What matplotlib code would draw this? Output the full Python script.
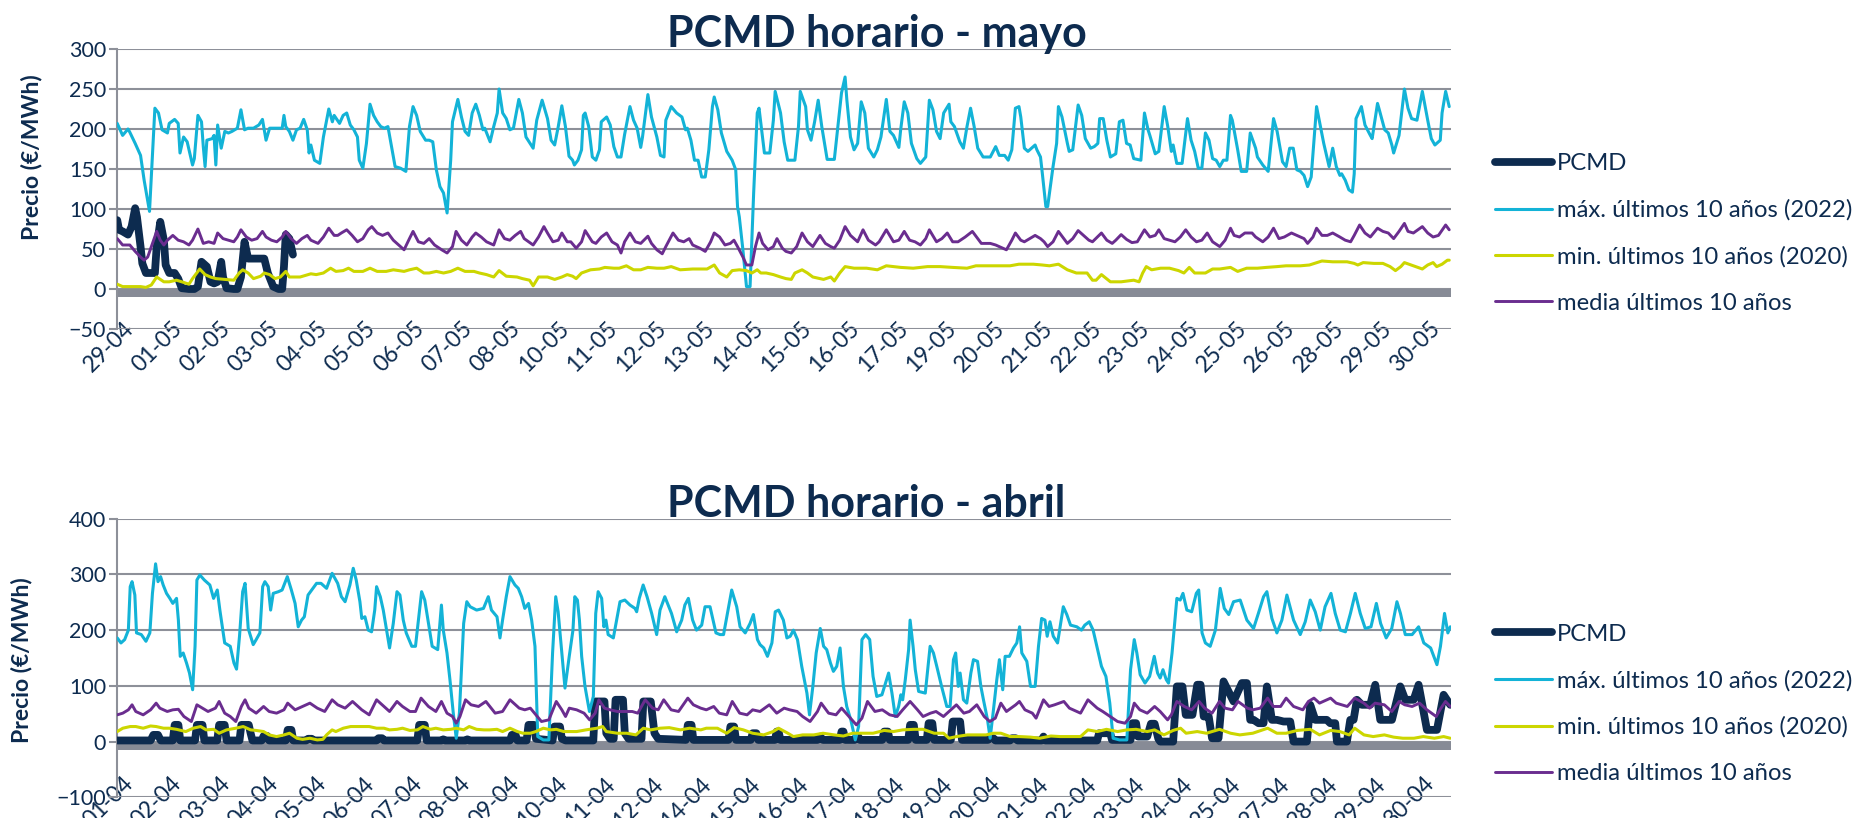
import matplotlib
matplotlib.use("Agg")
import matplotlib.pyplot as plt
from matplotlib.transforms import ScaledTranslation

# ---------------- data (hour index, €/MWh) ----------------
MAY_TICKS = ["29-04", "01-05", "02-05", "03-05", "04-05", "05-05", "06-05", "07-05",
             "08-05", "10-05", "11-05", "12-05", "13-05", "14-05", "15-05", "16-05",
             "17-05", "19-05", "20-05", "21-05", "22-05", "23-05", "24-05", "25-05",
             "26-05", "28-05", "29-05", "30-05"]
APR_TICKS = ["01-04", "02-04", "03-04", "04-04", "05-04", "06-04", "07-04", "08-04",
             "09-04", "10-04", "11-04", "12-04", "14-04", "15-04", "16-04", "17-04",
             "18-04", "19-04", "20-04", "21-04", "22-04", "23-04", "24-04", "25-04",
             "27-04", "28-04", "29-04", "30-04"]
MAY_HOURS = 744
APR_HOURS = 720
MAY_TICK_EVERY = 27
APR_TICK_EVERY = 26

LABELS = ["PCMD", "máx. últimos 10 años (2022)", "min. últimos 10 años (2020)",
          "media últimos 10 años"]

MAY_PCMD = [(0,86),(1,74),(3,72),(6,68),(8,78),(10,101),(11,90),(13,53),(14,32),(16,20),(18,20),
    (21,20),(22,53),(24,84),(26,61),(27,30),(29,20),(32,20),(34,13),(36,1),(40,0),(43,0),(45,3),
    (47,34),(50,28),(52,9),(54,7),(56,9),(58,34),(59,15),(61,1),(65,0),(67,0),(69,15),(71,59),
    (73,38),(78,38),(82,38),(84,20),(87,3),(90,0),(92,0),(93,28),(94,68),(96,63),(98,43)]

MAY_MAX = [(0,207),(3,192),(6,200),(7,196),(10,182),(13,167),(15,136),(18,97),(20,182),(21,226),
    (23,220),(25,199),(28,195),(29,207),(32,212),(34,207),(35,170),(37,190),(39,184),(42,155),
    (43,163),(45,217),(47,209),(48,178),(49,153),(50,186),(53,188),(54,192),(55,155),(56,205),
    (58,176),(60,197),(62,195),(64,197),(67,201),(69,224),(71,199),(73,201),(76,201),(79,205),
    (81,212),(83,186),(85,201),(89,201),(92,201),(93,217),(94,203),(96,197),(98,186),(100,199),
    (102,201),(104,212),(106,199),(107,170),(108,180),(110,161),(113,157),(115,190),(118,225),
    (120,209),(121,217),(124,207),(126,217),(128,220),(130,205),(132,199),(134,190),(135,161),
    (137,151),(139,182),(141,231),(143,217),(145,209),(147,203),(149,201),(151,203),(153,178),
    (155,153),(158,151),(161,147),(163,203),(165,228),(167,217),(169,197),(172,186),(174,186),
    (176,184),(178,149),(180,128),(182,120),(184,95),(186,161),(187,209),(190,237),(192,215),
    (194,197),(196,192),(198,220),(200,231),(202,217),(204,199),(205,201),(208,184),(210,203),
    (212,220),(213,250),(215,220),(217,213),(219,199),(221,201),(224,237),(226,220),(228,190),
    (232,176),(234,211),(237,236),(240,213),(242,186),(244,180),(246,203),(248,229),(250,203),
    (252,166),(254,161),(255,155),(257,161),(259,174),(260,217),(261,220),(263,203),(265,165),
    (267,161),(269,174),(270,209),(273,215),(275,205),(277,178),(279,165),(281,165),(283,193),
    (286,228),(288,211),(290,201),(292,177),(293,190),(296,243),(298,215),(301,190),(303,167),
    (305,165),(306,211),(309,228),(312,220),(315,215),(317,199),(318,201),(320,186),(322,161),
    (324,161),(326,140),(328,140),(330,174),(332,228),(333,240),(335,224),(337,195),(340,172),
    (343,161),(345,149),(346,103),(347,90),(349,49),(351,3),(353,3),(355,120),(357,220),
    (358,226),(359,207),(361,170),(364,170),(366,211),(367,247),(370,220),(372,184),(374,161),
    (378,161),(380,203),(381,247),(384,228),(385,199),(387,186),(389,209),(391,236),(393,203),
    (396,162),(400,162),(402,203),(404,245),(406,265),(407,236),(409,190),(411,174),(413,182),
    (415,234),(417,220),(419,176),(422,165),(424,174),(426,190),(429,237),(431,197),(433,192),
    (436,177),(437,199),(439,234),(441,220),(443,182),(446,163),(448,157),(451,165),(453,236),
    (455,224),(457,197),(459,188),(461,220),(464,231),(465,209),(467,203),(470,184),(472,176),
    (474,203),(476,226),(478,203),(480,176),(483,165),(487,165),(490,178),(492,167),(495,167),
    (497,161),(499,174),(501,226),(503,228),(504,215),(506,176),(508,172),(510,176),(512,180),
    (513,174),(515,165),(516,145),(518,103),(519,103),(521,136),(522,153),(524,182),(525,228),
    (527,215),(530,182),(531,172),(533,174),(536,230),(538,217),(540,188),(543,176),(545,178),
    (547,182),(548,213),(550,213),(552,186),(554,165),(557,169),(559,209),(561,211),(563,182),
    (565,180),(567,163),(571,161),(573,220),(575,199),(576,192),(579,169),(581,172),(584,228),
    (586,203),(588,172),(589,180),(591,157),(594,157),(597,213),(599,186),(601,172),(603,151),
    (605,151),(607,195),(609,186),(611,163),(613,161),(615,153),(617,161),(619,161),(621,217),
    (622,211),(625,174),(627,147),(630,147),(632,195),(635,176),(636,165),(639,155),(642,147),
    (645,213),(647,197),(650,159),(652,153),(654,176),(656,176),(658,149),(660,147),(662,142),
    (664,128),(666,140),(669,228),(671,205),(673,182),(676,153),(678,176),(680,153),(682,142),
    (683,144),(685,136),(687,124),(689,121),(690,144),(691,213),(694,228),(696,205),(699,192),
    (700,188),(703,232),(704,224),(707,199),(709,195),(711,180),(712,170),(715,192),(718,250),
    (720,226),(722,213),(725,211),(728,247),(731,211),(733,188),(735,180),(738,186),(739,220),
    (741,247),(743,228)]

MAY_MIN = [(0,6),(3,3),(7,3),(13,3),(16,2),(19,5),(22,15),(26,9),(29,9),(33,11),(36,9),(40,6),
    (42,13),(46,25),(49,18),(52,15),(55,13),(60,12),(65,11),(68,20),(70,24),(73,20),(76,13),
    (80,16),(82,20),(85,18),(88,13),(91,15),(94,22),(96,15),(102,15),(108,19),(111,18),(115,20),
    (119,26),(122,22),(126,23),(129,26),(132,22),(137,22),(141,26),(145,22),(150,22),(154,24),
    (160,22),(163,24),(167,26),(171,20),(174,20),(178,22),(182,20),(186,22),(190,26),(194,22),
    (199,22),(202,20),(206,18),(210,15),(213,23),(217,16),(223,15),(226,13),(230,11),(232,4),
    (235,15),(240,15),(244,12),(248,15),(251,18),(254,16),(256,13),(259,20),(264,24),(269,25),
    (272,27),(277,26),(280,26),(284,29),(288,24),(292,24),(296,27),(301,26),(305,26),(309,28),
    (314,24),(321,25),(329,25),(333,30),(336,20),(340,15),(343,23),(347,24),(351,23),(354,20),
    (357,24),(359,20),(362,20),(366,18),(370,15),(373,13),(376,12),(378,20),(382,24),(385,20),
    (388,15),(394,12),(398,15),(400,10),(403,20),(406,28),(411,26),(418,26),(424,24),(429,29),
    (437,27),(444,26),(452,28),(459,28),(466,27),(474,26),(479,29),(485,29),(492,29),(498,29),
    (503,31),(511,31),(516,30),(520,29),(525,31),(530,24),(535,20),(541,20),(544,11),(546,11),
    (549,18),(554,9),(560,9),(567,11),(570,9),(572,20),(574,28),(577,24),(582,26),(587,26),
    (592,23),(595,20),(598,27),(601,20),(607,20),(611,25),(615,25),(621,27),(625,22),(630,26),
    (636,26),(641,27),(647,28),(652,29),(660,29),(665,30),(672,35),(678,34),(686,34),(690,32),
    (692,30),(695,33),(701,32),(706,32),(710,28),(713,23),(716,28),(718,33),(723,29),(728,25),
    (731,30),(734,33),(736,28),(739,31),(742,36),(743,36)]

MAY_MEDIA = [(0,63),(3,55),(7,55),(10,47),(13,40),(15,36),(17,40),(20,59),(22,72),(24,61),
    (26,55),(28,61),(31,67),(34,61),(37,59),(40,55),(42,61),(45,75),(48,57),(51,59),(54,57),
    (56,70),(59,63),(62,61),(65,59),(67,65),(69,74),(72,65),(75,61),(78,63),(81,72),(83,65),
    (86,61),(89,59),(92,65),(94,72),(97,63),(100,57),(103,63),(106,67),(108,61),(112,57),
    (115,65),(118,76),(121,67),(123,67),(125,70),(128,74),(131,67),(134,59),(137,63),(140,74),
    (142,78),(145,70),(148,67),(151,70),(154,61),(158,53),(160,49),(163,63),(165,72),(168,59),
    (171,57),(174,63),(177,55),(181,49),(184,45),(187,53),(189,72),(192,61),(195,55),(198,65),
    (200,70),(203,65),(206,59),(210,55),(213,74),(216,63),(219,61),(222,67),(225,72),(227,63),
    (232,55),(235,65),(238,78),(240,70),(243,59),(246,61),(248,70),(251,59),(253,59),(256,51),
    (259,59),(261,73),(265,59),(267,57),(270,65),(273,70),(276,59),(279,55),(281,45),(283,59),
    (286,70),(289,59),(292,57),(296,66),(298,57),(301,49),(304,44),(306,53),(310,70),(313,61),
    (316,59),(319,63),(321,55),(325,51),(328,47),(331,59),(333,70),(336,65),(339,55),(342,57),
    (344,61),(346,53),(349,40),(351,30),(354,30),(356,53),(358,70),(360,57),(363,49),(366,53),
    (368,63),(371,51),(373,47),(376,45),(379,53),(382,70),(385,59),(388,53),(392,67),(395,57),
    (398,53),(400,51),(403,61),(406,78),(409,67),(413,59),(416,74),(419,61),(423,55),(425,59),
    (429,74),(433,59),(436,61),(439,72),(442,61),(445,59),(448,55),(451,63),(453,74),(457,59),
    (460,63),(463,70),(466,59),(469,59),(473,65),(477,72),(482,57),(487,57),(490,55),(492,53),
    (496,49),(499,61),(501,70),(504,61),(506,59),(509,63),(512,67),(515,63),(517,59),(519,53),
    (522,59),(525,72),(528,63),(530,57),(533,63),(536,73),(539,67),(542,61),(544,59),(549,70),
    (552,61),(555,57),(557,61),(560,68),(563,62),(566,58),(569,59),(573,74),(576,65),(579,67),
    (581,74),(584,63),(587,61),(590,59),(593,65),(596,74),(599,65),(602,59),(605,61),(608,70),
    (611,59),(615,53),(618,61),(621,76),(623,67),(626,65),(629,70),(633,70),(635,65),(639,59),
    (642,65),(645,76),(648,63),(651,65),(655,70),(658,67),(662,63),(664,57),(667,65),(669,76),
    (672,67),(675,67),(678,70),(682,65),(685,61),(688,59),(690,67),(693,80),(696,70),(699,65),
    (703,76),(706,72),(709,70),(712,63),(715,72),(718,82),(720,72),(723,70),(728,78),(731,70),
    (734,65),(737,67),(741,80),(743,74)]

APR_PCMD = [(0,2),(18,2),(19.5,12),(22,12),(23.5,2),(30,2),(31,30),(33,30),(34,2),(42,2),(43,30),
    (46,30),(47,2),(54,2),(55,30),(58,30),(59,2),(66,2),(67,30),(71,30),(72,15),(73,2),(78,2),
    (79,10),(81,10),(82,2),(91,2),(92,21),(94,21),(95,2),(102,2),(103,5),(105,5),(106,2),(140,2),
    (141,6),(143,6),(144,2),(162,2),(163,30),(166,30),(167,2),(175,2),(176,4),(177,2),(188,2),
    (189,4),(190,2),(212,2),(213,12),(215,12),(216,2),(221,2),(222,30),(225,30),(226,5),(235,2),
    (236,27),(239,27),(240,5),(242,2),(257,2),(258,72),(263,72),(264,15),(266,5),(268,5),
    (269,75),(273,75),(274,15),(276,5),(283,5),(284,72),(288,72),(290,15),(292,5),(307,3),
    (308,30),(310,30),(311,3),(330,3),(331,27),(333,27),(334,3),(342,3),(343,15),(345,15),
    (346,3),(355,3),(356,18),(357,18),(358,3),(378,3),(379.5,9),(381,3),(390,3),(391,18),
    (392,18),(393,3),(398,3),(399,9),(400,9),(401,3),(413,3),(414,18),(416,18),(417,3),(427,3),
    (428,30),(430,30),(431,3),(437,3),(438,33),(440,33),(441,3),(450,3),(451,36),(455,36),
    (456,3),(470,3),(471,6),(473,6),(474,2),(482,2),(483,6),(485,6),(486,2),(499,2),(500,9),
    (501,2),(529,2),(530,15),(536,15),(537,3),(547,3),(548,33),(550,33),(551,9),(556,9),
    (558,32),(560,32),(562,5),(563,0),(570,0),(572,99),(575,99),(576.8,48),(580.4,48),(583,102),
    (584.8,102),(586.5,45),(589.2,45),(591,6),(594.5,6),(597.2,108),(602.6,72),(607.1,105),
    (609.8,105),(611.6,39),(613.4,39),(616.1,33),(618.8,33),(620.6,99),(623.3,39),(626,39),
    (629.6,36),(633.2,36),(635,0),(642.2,0),(644,66),(646.7,39),(652.9,39),(654.8,33),
    (657.5,33),(658.4,0),(663.8,0),(665.6,39),(667.4,39),(669.2,75),(671.9,66),(676.4,66),
    (679.1,102),(681.8,39),(688.1,39),(692.6,99),(695.3,75),(699.8,75),(702.5,102),(707,21),
    (712.4,21),(716,84),(719.6,66)]

APR_MAX = [(0,186),(2,177),(4,183),(6,200),(7,278),(8,287),(9.5,263),(10.4,195),(13,192),
    (15.5,180),(17.6,195),(19,266),(20.7,319),(22,287),(23.4,296),(24.8,281),(26.6,266),
    (28.4,257),(30,248),(32,257),(33,218),(34,153),(35.6,159),(37.4,141),(39,123),(40.7,93),
    (42,171),(43,290),(44.6,299),(47,290),(50,281),(52,257),(54,272),(55.4,236),(58,177),
    (61,171),(63,141),(64.4,130),(66,189),(67.7,269),(69,284),(70.7,203),(73.4,174),(75,183),
    (77,195),(78.5,278),(79.7,287),(81.5,278),(82.8,236),(84.2,266),(87,269),(89,272),
    (91.8,296),(94,272),(96,248),(97.7,206),(99.5,218),(101,224),(103,263),(105,272),
    (107.6,284),(110,284),(113,275),(116,302),(119,284),(121,260),(123,251),(125.6,281),
    (127.4,311),(129,290),(131,251),(132,221),(133.7,224),(135.5,200),(137.3,197),(139,236),
    (140,278),(142,260),(143.6,236),(145.4,200),(147,168),(149,212),(151,269),(152.6,263),
    (154.4,218),(156,195),(159,171),(161,171),(162.6,218),(164.3,269),(166,254),(168,212),
    (170,171),(173,165),(175,245),(176,200),(178,159),(179.6,111),(181.4,51),(183,6),
    (184.7,51),(187,212),(188.7,251),(190.5,242),(194,236),(197.7,239),(200.3,260),(202,236),
    (205,224),(206.6,186),(208,218),(210,260),(212,296),(214.7,281),(216.5,275),(218.3,260),
    (220,239),(222,248),(223.7,218),(225.5,171),(227,9),(230,3),(233,3),(235,159),(236.7,260),
    (238,233),(240,159),(241.7,96),(244,153),(246,200),(247,260),(248.4,254),(249.5,218),
    (250.7,153),(252.5,99),(254.9,54),(257,81),(258.3,230),(259.6,269),(261.5,257),(262.7,206),
    (263.8,218),(265,192),(267.8,186),(269.6,218),(271.4,251),(274,254),(276.8,245),
    (279.5,239),(280.4,233),(281.8,257),(283.9,281),(286,260),(288.5,230),(291.2,192),(293,236),
    (295.6,260),(297.4,245),(299.2,230),(302,197),(304.7,218),(306.4,245),(308.3,257),
    (310.6,218),(312.7,200),(315.5,209),(317.3,242),(320,242),(323.2,195),(325.4,192),
    (327.3,192),(329.4,230),(331.7,272),(334.4,242),(336.2,206),(339,195),(341.6,212),
    (343.4,228),(345.6,183),(347,174),(349,168),(351,153),(353.4,177),(355.2,233),(357,236),
    (359.6,218),(361.5,186),(363.3,189),(365,200),(367.2,183),(369.5,135),(372.3,87),
    (373.7,48),(375.5,99),(377.3,159),(379.5,203),(381.3,171),(383,165),(385,141),(386.6,126),
    (388.4,135),(390.2,168),(392,99),(393.8,63),(396,39),(398.4,3),(400.2,27),(402,183),
    (404,192),(406.2,183),(408,117),(410,81),(412.8,84),(416.4,123),(418.2,87),(420,45),
    (421.8,63),(423,84),(424,75),(425.4,111),(427.2,165),(428,218),(429.6,171),(430.8,129),
    (432.6,90),(436.2,87),(438.8,171),(440.6,159),(442.4,135),(445,99),(447.8,63),(449.6,63),
    (451.4,147),(452.6,159),(454,99),(455,123),(456.8,75),(458.6,69),(460.8,123),(462.2,147),
    (464.4,144),(466.2,99),(467.6,75),(469.8,39),(471.2,6),(473,57),(474.8,111),(476.2,147),
    (478,93),(479.3,153),(481.6,153),(483.8,168),(485.6,177),(487.1,206),(488.3,159),(491,144),
    (493,99),(495.5,99),(497.3,171),(499,221),(500.8,218),(502,189),(503.5,215),(505.3,189),
    (507.6,177),(509.3,212),(510.7,242),(512.6,228),(514.6,209),(518,206),(520.5,200),
    (522.3,209),(524.7,215),(526.8,200),(528.6,174),(531.3,135),(533.7,117),(535.8,69),
    (537.6,6),(541,3),(545,3),(547,129),(549,183),(550.4,159),(552.2,120),(554.8,105),
    (557.3,117),(559.8,153),(561.6,123),(563,114),(564.5,129),(566.3,111),(567.5,105),
    (569.4,159),(572,257),(573.8,254),(575.3,266),(577.4,236),(580,233),(582.5,266),(583.8,272),
    (585.6,195),(587.4,177),(590,171),(592.8,200),(595.4,275),(597.6,239),(600,228),(602.6,251),
    (606.2,254),(609.8,218),(613.4,203),(616,230),(618.8,260),(620.6,269),(623.3,221),(626,195),
    (628.7,218),(631.4,263),(635,218),(638.6,192),(641.3,215),(644,254),(646.7,233),(649.4,200),
    (652,242),(655.2,266),(657.5,230),(660.2,200),(663,197),(665.7,230),(668.3,266),(671,230),
    (673.7,203),(676.8,206),(679.7,248),(682,212),(685,186),(688,203),(690.8,251),(692.7,230),
    (695.3,192),(699,192),(702.5,206),(705.3,177),(709,168),(710.7,153),(712.4,138),(714.3,171),
    (716.5,230),(718.3,195),(719.6,206)]

APR_MIN = [(0,18),(3,24),(7,27),(10,27),(14,24),(18,28),(21,27),(25,24),(28,24),(32,22),(37,18),
    (41,24),(45,27),(48,21),(52,22),(55,15),(59,21),(64,24),(68,27),(72,21),(75,20),(79,18),
    (82,12),(86,9),(90,12),(93,15),(97,6),(100,4),(104,6),(108,3),(111,4),(113,12),(116,21),
    (118,18),(122,24),(126,27),(133,27),(136,27),(140,24),(144,24),(147,21),(151,22),(154,24),
    (158,20),(162,21),(165,27),(169,22),(172,24),(176,21),(180,22),(183,24),(187,21),(190,27),
    (194,22),(198,21),(201,21),(205,22),(208,18),(212,24),(216,18),(219,15),(223,15),(226,18),
    (230,24),(234,21),(237,22),(241,18),(244,18),(248,18),(253,21),(259,24),(262,27),(264,18),
    (270,15),(275,15),(280,12),(284,24),(288,21),(293,24),(298,25),(304,21),(309,24),(315,21),
    (318,24),(324,24),(329,15),(333,25),(338,21),(343,15),(349,12),(354,18),(357,24),(362,15),
    (365,9),(370,12),(376,12),(381,15),(387,12),(392,10),(397,15),(403,15),(408,15),(414,20),
    (419,18),(424,21),(430,22),(435,22),(441,15),(446,15),(449,6),(453,9),(459,12),(464,12),
    (469,12),(473,15),(477,15),(482,9),(487,9),(493,8),(498,6),(504,10),(509,9),(514,9),(520,9),
    (524,21),(529,18),(534,22),(540,18),(545,21),(550,22),(556,18),(560,21),(565,12),(570,20),
    (574,24),(577,15),(583,18),(588,15),(595,22),(601,15),(606,12),(613,15),(621,24),(626,15),
    (631,15),(637,20),(644,22),(649,12),(655,20),(660,18),(665,12),(668,24),(673,12),(678,9),
    (684,12),(689,8),(694,6),(700,6),(705,9),(711,6),(716,9),(719.6,6)]

APR_MEDIA = [(0,48),(3,51),(6,57),(8,66),(10,54),(14,48),(18,57),(21,69),(23,60),(27,54),(30,57),
    (33,58),(36,45),(40,36),(43,66),(46,60),(49,54),(53,60),(55,72),(58,51),(61,45),(64,36),
    (67,63),(69,75),(71,60),(75,51),(79,63),(82,54),(86,51),(90,57),(92,69),(96,57),(100,63),
    (104,69),(108,60),(112,54),(116,75),(119,66),(123,60),(127,72),(132,57),(136,48),(140,75),
    (145,60),(147,54),(151,72),(154,63),(158,54),(161,54),(164,78),(168,63),(172,54),(175,72),
    (178,51),(181,45),(183,33),(185,45),(188,75),(191,66),(195,63),(199,72),(204,51),(208,54),
    (212,75),(217,60),(220,57),(223,60),(226,48),(229,36),(233,39),(237,72),(240,57),(242,45),
    (244,60),(248,57),(252,51),(255,39),(258,51),(260,75),(263,60),(266,57),(270,54),(274,54),
    (278,54),(281,51),(285,75),(289,60),(292,57),(295,75),(299,57),(303,54),(308,78),(311,66),
    (315,60),(318,57),(322,63),(325,51),(329,48),(332,72),(336,51),(340,48),(343,57),(347,54),
    (352,66),(356,51),(360,60),(363,57),(367,54),(370,45),(374,36),(378,54),(380,69),(384,51),
    (388,48),(391,60),(395,45),(399,30),(402,42),(405,72),(409,54),(413,57),(417,48),(421,45),
    (424,57),(428,72),(432,57),(435,45),(439,51),(442,54),(446,45),(450,57),(453,66),(457,51),
    (460,54),(464,66),(468,45),(471,36),(474,42),(477,69),(480,54),(485,66),(487,72),(490,57),
    (494,51),(496,42),(500,75),(503,63),(506,66),(511,72),(514,60),(520,51),(524,75),(529,60),
    (532,54),(536,45),(540,36),(544,33),(547,45),(549,69),(552,57),(556,51),(560,63),(563,54),
    (567,39),(569,48),(572,72),(576,63),(580,57),(584,72),(587,60),(591,51),(595,72),(598,60),
    (602,57),(605,72),(610,60),(613,57),(617,60),(621,78),(624,63),(628,63),(631,78),(635,63),
    (640,57),(643,72),(646,78),(649,69),(655,78),(658,69),(664,63),(668,78),(673,69),(676,60),
    (679,69),(684,66),(688,54),(692,72),(695,66),(699,63),(703,69),(707,57),(712,45),(714,57),
    (717,72),(719.6,63)]

# ---------------- style ----------------
NAVY = "#0D2B4F"
CYAN = "#13B3D7"
YELLOW = "#CCD600"
PURPLE = "#6A2D8F"
GRID = "#8D9099"
BAND = "#878B96"
FONT = "Lato"

plt.rcParams["font.family"] = [FONT, "DejaVu Sans"]

fig = plt.figure(figsize=(18.61, 8.18), dpi=100)
fig.patch.set_facecolor("white")


def xy(pairs):
    return [p[0] for p in pairs], [p[1] for p in pairs]


def draw(ax, pcmd, mx, mn, md, ylo, yhi, ystep, band, nh, every, ticks, xpad):
    for s, c, lw in ((pcmd, NAVY, 5.6), (mx, CYAN, 2.2), (mn, YELLOW, 2.2), (md, PURPLE, 2.1)):
        x, y = xy(s)
        ax.plot(x, y, color=c, lw=lw, solid_capstyle="round", solid_joinstyle="round", zorder=3)
    ax.axhspan(band, 0, color=BAND, lw=0, zorder=2)
    ax.set_xlim(0, nh)
    ax.set_ylim(ylo, yhi)
    ax.set_yticks(range(ylo, yhi + 1, ystep))
    ax.yaxis.grid(True, color=GRID, lw=1.5, zorder=1)
    ax.set_axisbelow(True)
    for sp in ("top", "right", "bottom"):
        ax.spines[sp].set_visible(False)
    ax.spines["left"].set_color(GRID)
    ax.spines["left"].set_linewidth(1.5)
    ax.tick_params(axis="y", length=6, width=1.5, color=GRID, pad=2,
                   labelsize=15.5, labelcolor=NAVY)
    ax.set_xticks([k * every for k in range(len(ticks))])
    ax.set_xticklabels(ticks, rotation=45, ha="right", va="center",
                       rotation_mode="anchor", fontsize=16.5, color=NAVY)
    ax.tick_params(axis="x", length=0, pad=xpad)
    shift = ScaledTranslation(0.13, 0, fig.dpi_scale_trans)
    for lab in ax.get_xticklabels():
        lab.set_transform(lab.get_transform() + shift)


ax1 = fig.add_axes([0.0630, 0.5978, 0.7167, 0.3423])
draw(ax1, MAY_PCMD, MAY_MAX, MAY_MIN, MAY_MEDIA, -50, 300, 50, -10,
     MAY_HOURS, MAY_TICK_EVERY, MAY_TICKS, -3)
ax2 = fig.add_axes([0.0630, 0.0253, 0.7167, 0.3406])
draw(ax2, APR_PCMD, APR_MAX, APR_MIN, APR_MEDIA, -100, 400, 100, -15,
     APR_HOURS, APR_TICK_EVERY, APR_TICKS, -12)

fig.text(0.3584, 0.9425, "PCMD horario - mayo", fontsize=31, fontweight="bold",
         color=NAVY, ha="left", va="baseline")
fig.text(0.3584, 0.368, "PCMD horario - abril", fontsize=31, fontweight="bold",
         color=NAVY, ha="left", va="baseline")

fig.text(0.0167, 0.808, "Precio (€/MWh)", rotation=90, fontsize=16.5, fontweight="bold",
         color=NAVY, ha="center", va="center")
fig.text(0.0118, 0.193, "Precio (€/MWh)", rotation=90, fontsize=16.5, fontweight="bold",
         color=NAVY, ha="center", va="center")

for ax, ycen in ((ax1, 0.7146), (ax2, 0.1394)):
    leg = fig.legend(ax.get_lines()[:4], LABELS, loc="center left",
                     bbox_to_anchor=(0.8033, ycen), frameon=False, fontsize=17.2,
                     handlelength=2.4, handletextpad=0.2, labelspacing=1.05,
                     borderpad=0, borderaxespad=0)
    for t in leg.get_texts():
        t.set_color(NAVY)

fig.savefig("out.png", dpi=100, facecolor="white")
